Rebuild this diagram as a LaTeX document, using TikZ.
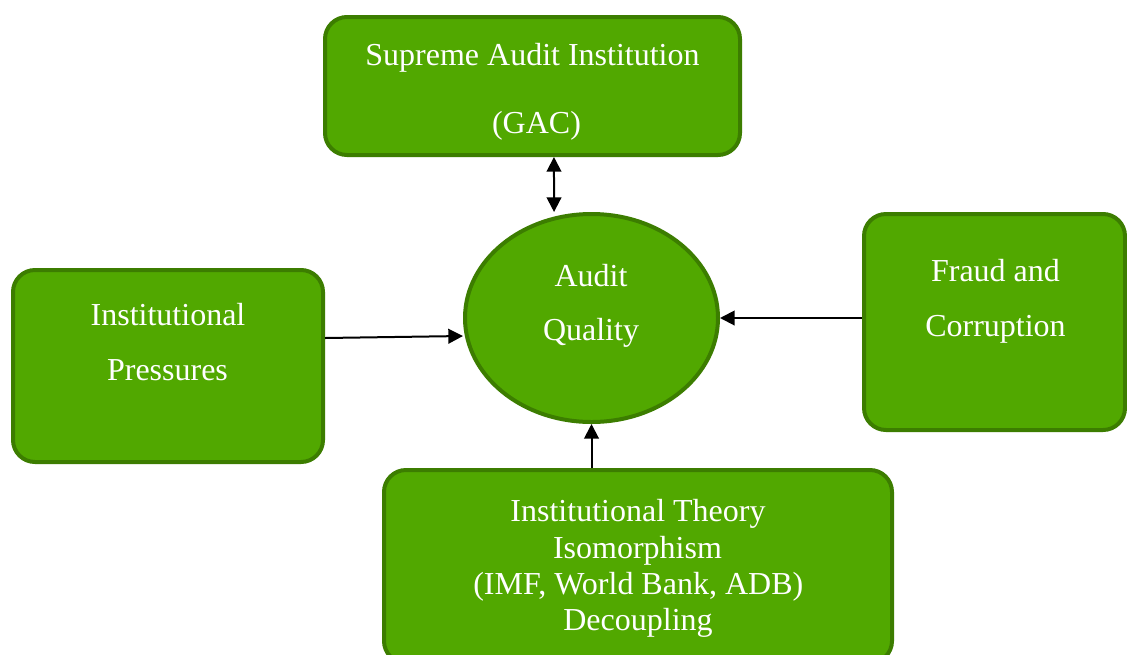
\documentclass[tikz,border=0pt]{standalone}
\usepackage{fontspec}
\setmainfont{Liberation Serif}
\usetikzlibrary{shapes.geometric,arrows.meta}
\definecolor{boxfill}{RGB}{81,168,0}
\definecolor{boxline}{RGB}{60,125,0}
\tikzset{
  greenbox/.style={draw=boxline, fill=boxfill, line width=3pt, rounded corners=16.5pt, inner sep=0pt},
  greenoval/.style={ellipse, draw=boxline, fill=boxfill, line width=3pt, inner sep=0pt},
  lbl/.style={anchor=base, text=white, inner sep=0pt, font=\fontsize{24}{28}\selectfont},
  arr/.style={draw=black, line width=1.5pt, -{Triangle[length=11pt,width=11pt]}},
  dblarr/.style={draw=black, line width=1.5pt, {Triangle[length=11pt,width=11pt]}-{Triangle[length=11pt,width=11pt]}}
}
\begin{document}
\begin{tikzpicture}[x=0.75pt,y=-0.75pt]
\useasboundingbox (0,0) rectangle (1127,654);
\clip (0,0) rectangle (1127,654);
\fill[white] (0,0) rectangle (1127,654);
% shapes
\node[greenbox, minimum width=311.25pt, minimum height=103.5pt] (sai) at (532.5,86) {};
\node[greenbox, minimum width=232.5pt, minimum height=144pt] (pp) at (168,366) {};
\node[greenbox, minimum width=195.75pt, minimum height=162pt] (fc) at (994.5,322) {};
\node[greenbox, minimum width=381pt, minimum height=144.75pt] (ib) at (638,566.5) {};
\node[greenoval, minimum width=189.75pt, minimum height=156pt] (aq) at (591.5,318) {};
% texts
\node[lbl] (sai1) at (532.5,65) {Supreme Audit Institution};
\node[lbl] (sai2) at (536.5,133.5) {(GAC)};
\node[lbl] (aq1) at (591,286) {Audit};
\node[lbl] (aq2) at (591,340.5) {Quality};
\node[lbl] (pp1) at (168,325) {Institutional};
\node[lbl] (pp2) at (167.5,380) {Pressures};
\node[lbl] (fc1) at (995.5,281) {Fraud and};
\node[lbl] (fc2) at (995.5,336) {Corruption};
\node[lbl] (ib1) at (638,521.5) {Institutional Theory};
\node[lbl] (ib2) at (637.5,558) {Isomorphism};
\node[lbl] (ib3) at (638.3,594.5) {(IMF, World Bank, ADB)};
\node[lbl] (ib4) at (638,630.5) {Decoupling};
% connectors
\draw[dblarr] ([xshift=16.1pt]sai.south) -- ([xshift=-28.1pt]aq.north);
\draw[arr] ([yshift=21pt]pp.east) -- ([yshift=-13.5pt]aq.west);
\draw[arr] ([yshift=3pt]fc.west) -- (aq.east);
\draw[arr] (ib.north -| aq.south) -- (aq.south);
\end{tikzpicture}
\end{document}
